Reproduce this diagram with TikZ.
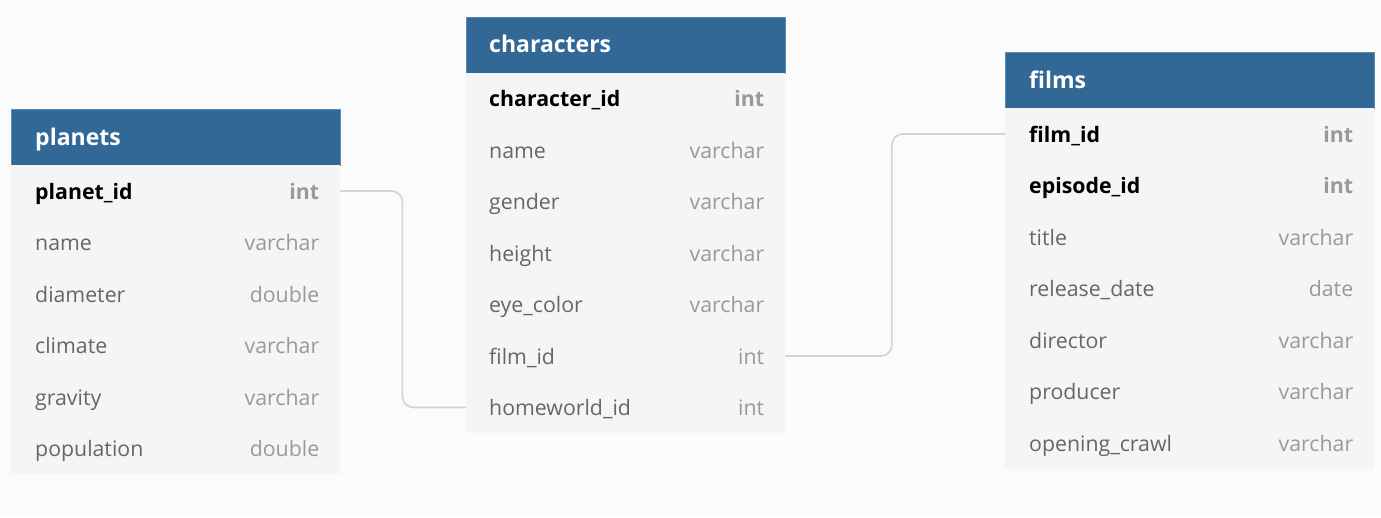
\documentclass[tikz,border=0pt]{standalone}
\usepackage{fontspec}
\setmainfont{Open Sans}
\definecolor{hdr}{HTML}{316896}
\definecolor{hdredge}{HTML}{5E88AE}
\definecolor{rowbg}{HTML}{F5F5F5}
\definecolor{pagebg}{HTML}{FBFBFB}
\definecolor{fname}{HTML}{666666}
\definecolor{ftype}{HTML}{999999}
\definecolor{conn}{HTML}{D2D2D2}
\begin{document}
\begin{tikzpicture}[x=1pt,y=-1pt,
  hdrbox/.style={fill=hdr,draw=hdredge,line width=0.8pt,anchor=north west,inner sep=0pt,minimum height=56pt},
  rowbox/.style={fill=rowbg,anchor=north west,inner sep=0pt,minimum height=51.5pt},
  hdrtxt/.style={anchor=base west,inner sep=0pt,text=white,font=\fontsize{23}{27}\selectfont\bfseries},
  nametxt/.style={anchor=base west,inner sep=0pt,text=fname,font=\fontsize{21.3}{25}\selectfont},
  keytxt/.style={anchor=base west,inner sep=0pt,text=black,font=\fontsize{21.3}{25}\selectfont\bfseries},
  typetxt/.style={anchor=base east,inner sep=0pt,text=ftype,font=\fontsize{21.3}{25}\selectfont},
  keytype/.style={anchor=base east,inner sep=0pt,text=ftype,font=\fontsize{21.3}{25}\selectfont\bfseries},
  connector/.style={draw=conn,line width=1.6pt,rounded corners=11pt}
]
\fill[pagebg] (0,0) rectangle (1381,517);

% ---------- planets ----------
\node[hdrbox,minimum width=329pt] (ph) at (11,109) {};
\node[hdrtxt] (pht) at ([xshift=24pt,yshift=-8pt]ph.west) {planets};
\foreach \i/\n/\t/\sn/\st in {1/planet\_id/int/keytxt/keytype,2/name/varchar/nametxt/typetxt,3/diameter/double/nametxt/typetxt,4/climate/varchar/nametxt/typetxt,5/gravity/varchar/nametxt/typetxt,6/population/double/nametxt/typetxt}{
  \node[rowbox,minimum width=329pt] (p\i) at (11,{165+(\i-1)*51.5}) {};
  \node[\sn] (p\i n) at ([xshift=24pt,yshift=-8.3pt]p\i.west) {\n};
  \node[\st] (p\i t) at ([xshift=-21pt,yshift=-8.3pt]p\i.east) {\t};
}

% ---------- characters ----------
\node[hdrbox,minimum width=319pt] (ch) at (466,16.5) {};
\node[hdrtxt] (cht) at ([xshift=23pt,yshift=-8pt]ch.west) {characters};
\foreach \i/\n/\t/\sn/\st in {1/character\_id/int/keytxt/keytype,2/name/varchar/nametxt/typetxt,3/gender/varchar/nametxt/typetxt,4/height/varchar/nametxt/typetxt,5/eye\_color/varchar/nametxt/typetxt,6/film\_id/int/nametxt/typetxt,7/homeworld\_id/int/nametxt/typetxt}{
  \node[rowbox,minimum width=319pt] (c\i) at (466,{72.5+(\i-1)*51.5}) {};
  \node[\sn] (c\i n) at ([xshift=23pt,yshift=-8.3pt]c\i.west) {\n};
  \node[\st] (c\i t) at ([xshift=-21pt,yshift=-8.3pt]c\i.east) {\t};
}

% ---------- films ----------
\node[hdrbox,minimum width=369pt] (fh) at (1005,52) {};
\node[hdrtxt] (fht) at ([xshift=24pt,yshift=-8pt]fh.west) {films};
\foreach \i/\n/\t/\sn/\st in {1/film\_id/int/keytxt/keytype,2/episode\_id/int/keytxt/keytype,3/title/varchar/nametxt/typetxt,4/release\_date/date/nametxt/typetxt,5/director/varchar/nametxt/typetxt,6/producer/varchar/nametxt/typetxt,7/opening\_crawl/varchar/nametxt/typetxt}{
  \node[rowbox,minimum width=369pt] (f\i) at (1005,{108+(\i-1)*51.5}) {};
  \node[\sn] (f\i n) at ([xshift=24pt,yshift=-8.3pt]f\i.west) {\n};
  \node[\st] (f\i t) at ([xshift=-21pt,yshift=-8.3pt]f\i.east) {\t};
}

% ---------- connectors ----------
\draw[connector] (p1.east) -- ++(62,0) |- (c7.west);
\draw[connector] (c6.east) -- ++(106.5,0) |- (f1.west);
\end{tikzpicture}
\end{document}
